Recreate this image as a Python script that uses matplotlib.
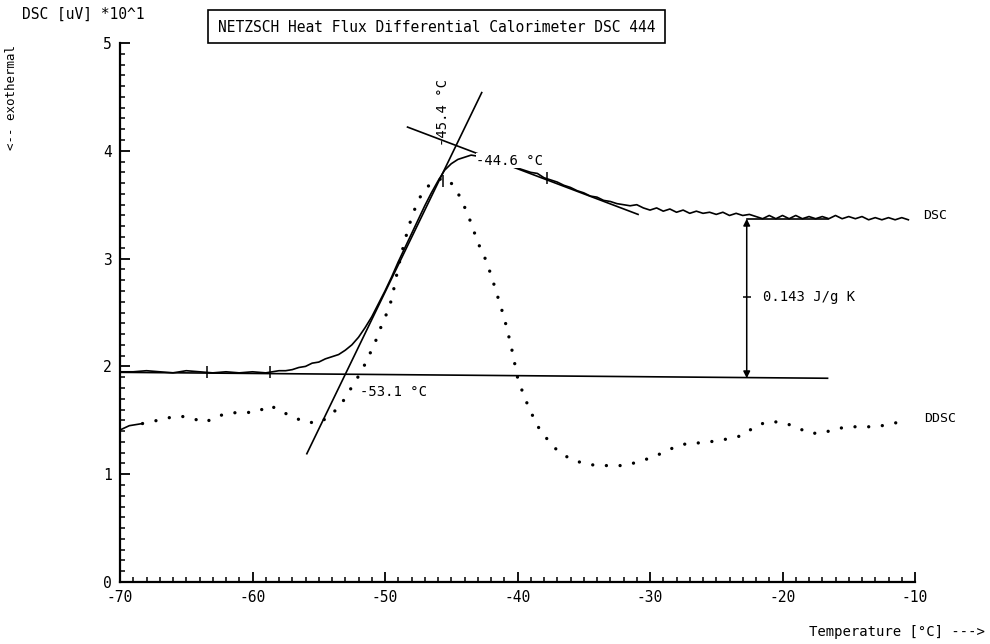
import matplotlib; matplotlib.use("Agg")
import matplotlib.pyplot as plt
from matplotlib.patches import Rectangle
from matplotlib.ticker import MultipleLocator
import numpy as np

plt.rcParams.update({"font.family": "DejaVu Sans Mono", "font.size": 10, "axes.unicode_minus": False})

# DSC curve (x 10^1 uV) vs temperature (C)
dsc_T = [-70, -69, -68, -67, -66, -65, -64, -63, -62, -61, -60, -59, -58, -57.5, -57, -56.5, -56, -55.5, -55,
         -54.5, -54, -53.5, -53, -52.5, -52, -51.5, -51, -50.5, -50, -49.5, -49, -48.5, -48, -47.5, -47,
         -46.5, -46, -45.5, -45, -44.5, -44, -43.5, -43, -42.5, -42, -41.5, -41, -40.5, -40, -39.5, -39,
         -38.5, -38, -37.5, -37, -36.5, -36, -35.5, -35, -34.5, -34, -33.5, -33, -32.5, -32, -31.5, -31,
         -30.5, -30, -29.5, -29, -28.5, -28, -27.5, -27, -26.5, -26, -25.5, -25, -24.5, -24, -23.5, -23,
         -22.5, -22, -21.5, -21, -20.5, -20, -19.5, -19, -18.5, -18, -17.5, -17, -16.5, -16, -15.5, -15,
         -14.5, -14, -13.5, -13, -12.5, -12, -11.5, -11, -10.5]
dsc_v = [1.95, 1.95, 1.96, 1.95, 1.94, 1.96, 1.95, 1.94, 1.95, 1.94, 1.95, 1.94, 1.96, 1.96, 1.97, 1.99, 2.00, 2.03, 2.04,
         2.07, 2.09, 2.11, 2.15, 2.20, 2.27, 2.36, 2.46, 2.58, 2.70, 2.83, 2.97, 3.10, 3.23, 3.36, 3.49,
         3.61, 3.72, 3.82, 3.88, 3.92, 3.94, 3.96, 3.95, 3.93, 3.92, 3.90, 3.88, 3.86, 3.84, 3.82, 3.80,
         3.79, 3.75, 3.73, 3.71, 3.68, 3.66, 3.63, 3.61, 3.58, 3.57, 3.54, 3.53, 3.51, 3.50, 3.49, 3.50,
         3.47, 3.45, 3.47, 3.44, 3.46, 3.43, 3.45, 3.42, 3.44, 3.42, 3.43, 3.41, 3.43, 3.40, 3.42, 3.40,
         3.41, 3.39, 3.37, 3.40, 3.37, 3.40, 3.37, 3.40, 3.37, 3.39, 3.37, 3.39, 3.37, 3.40, 3.37, 3.39,
         3.37, 3.39, 3.36, 3.38, 3.36, 3.38, 3.36, 3.38, 3.36]

# DDSC (derivative) curve, first three points drawn solid
ddsc_T = [-70, -69.3, -68.3, -67.5, -66.5, -65.5, -64.6, -63.6, -62.6, -61.6, -60.6, -59.6, -58.7, -57.8,
          -56.9, -56, -54.9, -54.2, -53.4, -52.8, -52.3, -51.7, -51.3, -50.8, -50.5, -50, -49.5, -49,
          -48.5, -48, -47.5, -47, -46.5, -46, -45.5, -45, -44.5, -44, -43.5, -43, -42.5, -42, -41.5, -41,
          -40.5, -40, -39.5, -39, -38.5, -38, -37, -36, -35, -34, -33, -32, -31, -30, -29, -28, -27, -26,
          -25, -24, -23, -22, -21, -20, -19, -18, -17, -16, -15, -14, -13, -12, -11, -10.5]
ddsc_v = [1.41, 1.45, 1.47, 1.49, 1.52, 1.54, 1.52, 1.48, 1.54, 1.57, 1.57, 1.58, 1.64, 1.58,
          1.53, 1.48, 1.48, 1.54, 1.63, 1.75, 1.85, 1.97, 2.08, 2.20, 2.31, 2.45, 2.62, 2.92,
          3.17, 3.38, 3.54, 3.64, 3.70, 3.73, 3.75, 3.70, 3.61, 3.48, 3.33, 3.15, 3.02, 2.85, 2.65, 2.45,
          2.20, 1.90, 1.72, 1.58, 1.45, 1.36, 1.22, 1.14, 1.10, 1.08, 1.08, 1.08, 1.11, 1.15, 1.20, 1.26, 1.29, 1.29,
          1.31, 1.33, 1.36, 1.45, 1.49, 1.48, 1.44, 1.38, 1.38, 1.42, 1.44, 1.44, 1.44, 1.46, 1.49, 1.51]

# construction lines (tangents / baselines)
steep_T, steep_v = [-55.9, -42.7], [1.19, 4.54]
peak_T, peak_v = [-48.3, -30.9], [4.22, 3.41]
base_T, base_v = [-70, -16.6], [1.945, 1.89]
upper_T, upper_v = [-22.7, -16.6], [3.37, 3.37]
step_T, step_lo, step_hi = -22.7, 1.89, 3.37
mark_T = [-63.4, -58.7, -45.6, -37.8]
mark_v = [1.95, 1.95, 3.72, 3.75]

fig = plt.figure(figsize=(9.9, 6.44), dpi=100)
ax = fig.add_axes([120/990, 1-582/644, 795/990, 539/644])
ax.set_xlim(-70, -10); ax.set_ylim(0, 5)

lw = 1.2
ax.plot(dsc_T, dsc_v, color="black", lw=lw, clip_on=False)
ax.plot(ddsc_T[:3], ddsc_v[:3], color="black", lw=lw)
ax.plot(ddsc_T[2:], ddsc_v[2:], color="black", lw=2.4, linestyle=(0, (0.01, 4.1)),
        dash_capstyle="round", solid_capstyle="round")
for tt, vv in [(steep_T, steep_v), (peak_T, peak_v), (base_T, base_v), (upper_T, upper_v)]:
    ax.plot(tt, vv, color="black", lw=lw)
ax.plot(mark_T, mark_v, ls="none", marker="|", ms=8, mew=1.1, color="black")
ax.annotate("", xy=(step_T, step_lo), xytext=(step_T, step_hi),
            arrowprops=dict(arrowstyle="<|-|>", color="black", lw=1.1, mutation_scale=10, shrinkA=0, shrinkB=0))
ax.plot([step_T], [2.64], marker="_", ms=6, mew=1.1, color="black")

ax.text(-21.5, 2.64, "0.143 J/g K", ha="left", va="center", fontsize=10)
ax.text(-9.4, 3.40, "DSC", ha="left", va="center", fontsize=9.5, clip_on=False)
ax.text(-9.3, 1.52, "DDSC", ha="left", va="center", fontsize=9.5, clip_on=False)
ax.text(-51.9, 1.76, "-53.1 °C", ha="left", va="center", fontsize=10)
ax.text(-43.1, 3.91, "-44.6 °C", ha="left", va="center", fontsize=10, zorder=5,
        bbox=dict(fc="white", ec="none", pad=0.5))
ax.text(-45.6, 4.04, "-45.4 °C", ha="center", va="bottom", rotation=90, fontsize=10)

for s in ["top", "right"]:
    ax.spines[s].set_visible(False)
for s in ["left", "bottom"]:
    ax.spines[s].set_linewidth(1.6)
ax.xaxis.set_major_locator(MultipleLocator(10)); ax.xaxis.set_minor_locator(MultipleLocator(1))
ax.yaxis.set_major_locator(MultipleLocator(1)); ax.yaxis.set_minor_locator(MultipleLocator(0.1))
ax.tick_params(which="major", direction="in", length=7, width=1.3, labelsize=10.5, pad=6)
ax.tick_params(which="minor", direction="in", length=3.5, width=1.1)
ax.set_xticks([-70, -60, -50, -40, -30, -20, -10])

fig.text(22/990, 1-14/644, "DSC [uV] *10^1", ha="left", va="center", fontsize=10.5)
fig.text(12/990, 1-97/644, "<-- exothermal", ha="center", va="center", rotation=90, fontsize=9)
fig.text(985/990, 1-632/644, "Temperature [°C] --->", ha="right", va="center", fontsize=10)
fig.patches.append(Rectangle((208/990, 1-43/644), 457/990, 33/644, transform=fig.transFigure,
                             fill=False, lw=1.2, ec="black"))
fig.text(437/990, 1-27/644, "NETZSCH Heat Flux Differential Calorimeter DSC 444", ha="center", va="center",
         fontsize=10.5)

fig.savefig("out.png", dpi=100)
